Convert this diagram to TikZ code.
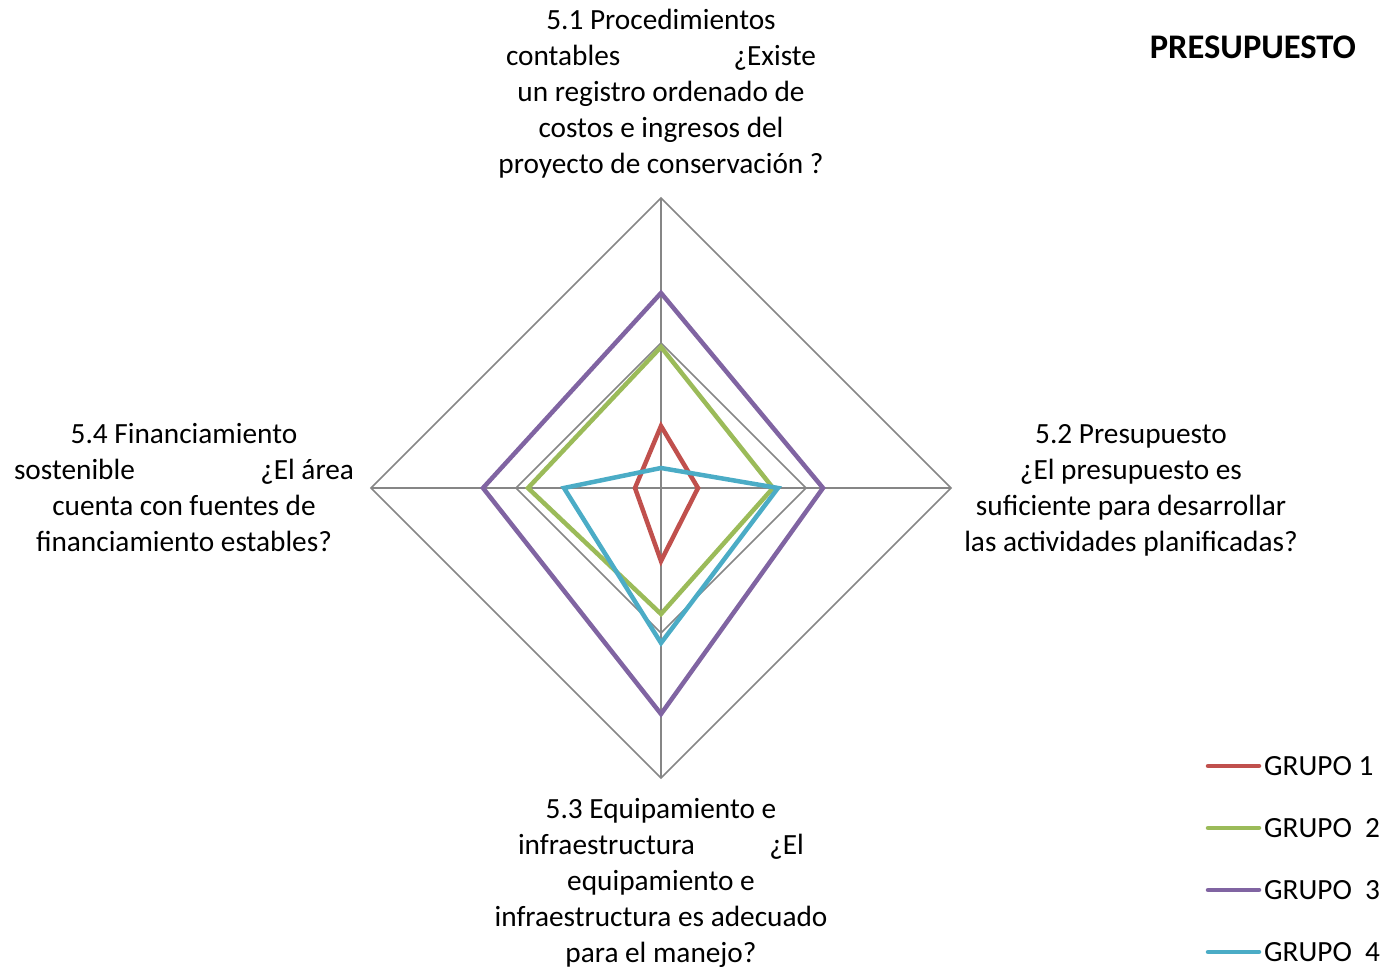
\documentclass[tikz,border=0pt]{standalone}
\usepackage{fontspec}
\setmainfont{Carlito}
\usepackage{tikz}
\usetikzlibrary{calc}

\definecolor{grupoA}{RGB}{192,80,77}
\definecolor{grupoB}{RGB}{155,187,89}
\definecolor{grupoC}{RGB}{128,100,162}
\definecolor{grupoD}{RGB}{75,172,198}
\definecolor{rejilla}{RGB}{134,134,134}

\begin{document}
\begin{tikzpicture}[x=1pt,y=1pt,
    font=\fontsize{29.3}{36}\selectfont,
    gridline/.style={rejilla, line width=1.5pt},
    serie/.style={line width=4.5pt, line join=miter},
    eje/.style={align=center, inner sep=0pt}]
    \useasboundingbox (0,0) rectangle (1384,969);

    % Center of the radar
    \coordinate (O) at (661,481);

    \begin{scope}[shift={(O)}]
        % Drawing the grid
        \foreach \r in {145,290} {
            \draw[gridline] (90:\r) -- (0:\r) -- (270:\r) -- (180:\r) -- cycle;
        }
        \draw[gridline] (90:290) -- (270:290);
        \draw[gridline] (180:290) -- (0:290);

        % Drawing the groups
        \foreach \col/\a/\b/\c/\d in {grupoB/141/112/126/133, grupoC/195/162/226/178,
                                      grupoA/62/37/73/26, grupoD/20/117/155/97} {
            \draw[serie, \col] (90:\a) -- (0:\b) -- (270:\c) -- (180:\d) -- cycle;
        }
    \end{scope}

    % Axis labels
    \node[eje] (p51) at (661,875) {5.1 Procedimientos\\
        \makebox[310pt]{contables\hfill ¿Existe}\\
        un registro ordenado de\\ costos e ingresos del\\ proyecto de conservación ?};
    \node[eje] (p52) at (1131,479) {5.2 Presupuesto\\ ¿El presupuesto es\\
        suficiente para desarrollar\\ las actividades planificadas?};
    \node[eje] (p53) at (661,86) {5.3 Equipamiento e\\
        \makebox[286pt]{infraestructura\hfill ¿El}\\
        equipamiento e\\ infraestructura es adecuado\\ para el manejo?};
    \node[eje] (p54) at (184,481) {5.4 Financiamiento\\
        \makebox[340pt]{sostenible\hfill ¿El área}\\
        cuenta con fuentes de\\ financiamiento estables?};

    % Title
    \node[anchor=east, inner sep=0pt, font=\fontsize{34.5}{40}\selectfont\bfseries] (titulo) at (1356,922) {PRESUPUESTO};

    % Legend
    \foreach \col/\y/\txt [count=\i] in {grupoA/203/GRUPO 1, grupoB/141/GRUPO\ \ 2,
                                        grupoC/79/GRUPO\ \ 3, grupoD/17/GRUPO\ \ 4} {
        \node[anchor=west, inner sep=0pt] (ley\i) at (1264,\y) {\txt};
        \coordinate (m\i) at ($(ley\i.west)+(-56,0)$);
        \coordinate (n\i) at ($(ley\i.west)+(-5,0)$);
        \draw[\col, line width=4.5pt, line cap=round] (m\i) -- (n\i);
    }
\end{tikzpicture}
\end{document}
